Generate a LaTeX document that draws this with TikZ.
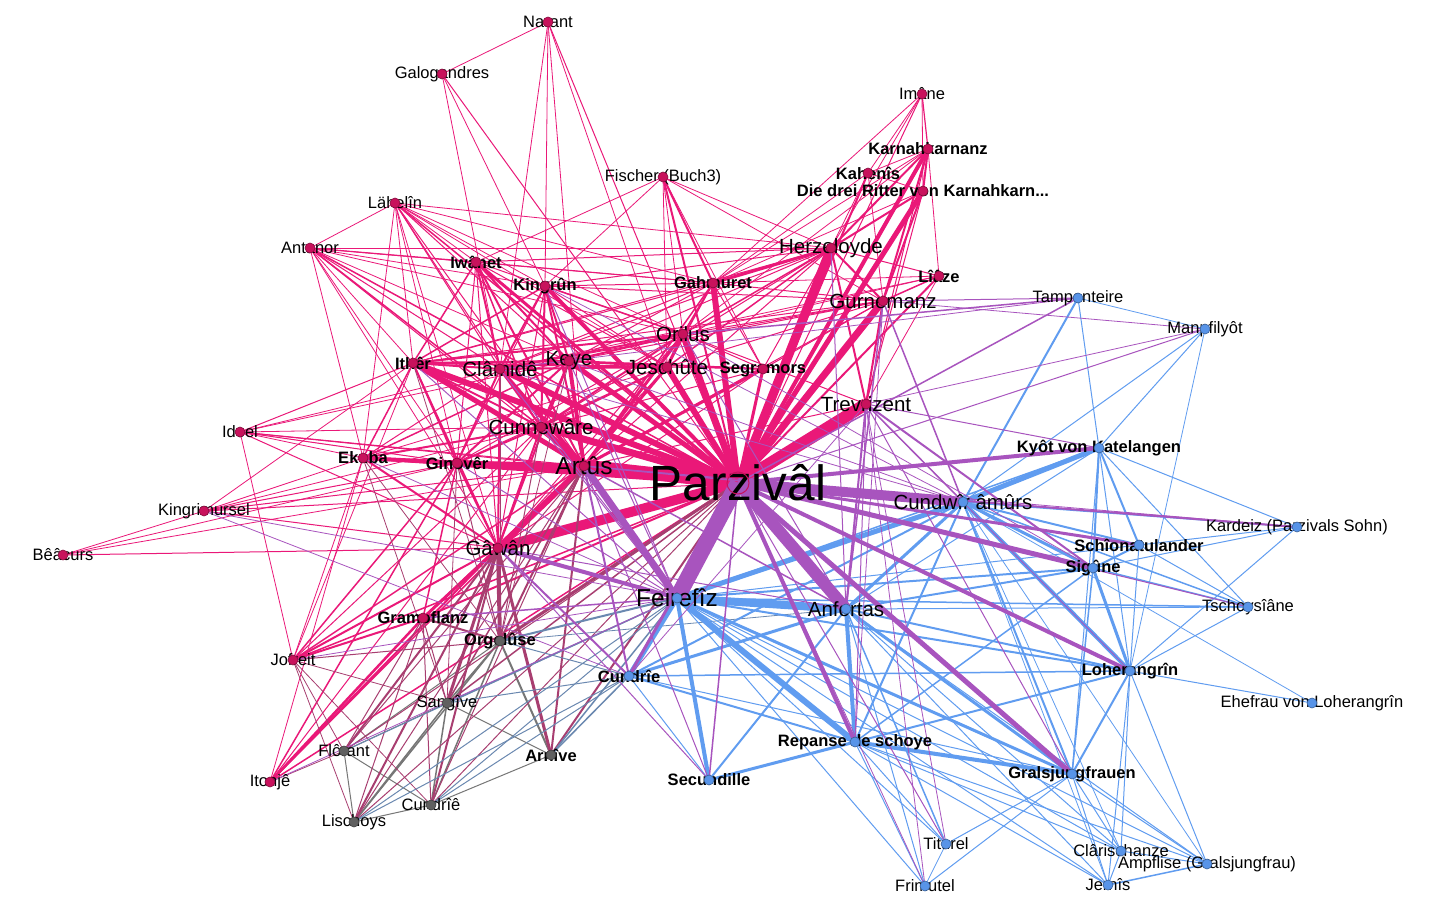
\documentclass[tikz,border=0pt]{standalone}
\usepackage{fontspec}
\setmainfont{Liberation Sans}
\usetikzlibrary{positioning}
\definecolor{dotpink}{RGB}{200,18,92}
\definecolor{dotblue}{RGB}{88,148,232}
\definecolor{dotgray}{RGB}{96,96,96}
\definecolor{pinkedge}{RGB}{234,24,120}
\definecolor{purpleedge}{RGB}{168,84,190}
\definecolor{blueedge}{RGB}{96,156,240}
\definecolor{grayedge}{RGB}{118,118,118}
\definecolor{mauveedge}{RGB}{168,62,112}
\definecolor{slateedge}{RGB}{106,136,176}
\pgfdeclarelayer{back}
\pgfdeclarelayer{edges}
\pgfsetlayers{back,edges,main}

\begin{document}
\begin{tikzpicture}[
x=1pt, y=-1pt,
sm/.style={font=\fontsize{16.5}{18}\selectfont, inner sep=0pt},
bd/.style={font=\fontsize{16.5}{18}\selectfont\bfseries, inner sep=0pt},
md/.style={font=\fontsize{20.5}{22}\selectfont, inner sep=0pt},
lg/.style={font=\fontsize{24.5}{26}\selectfont, inner sep=0pt},
xl/.style={font=\fontsize{49.5}{52}\selectfont, inner sep=0pt},
dotnode/.style={circle, inner sep=0pt, minimum size=10pt, line width=0.6pt},
pk/.style={label={[dotnode, fill=dotpink, draw=dotpink!65!black]center:}},
bl/.style={label={[dotnode, fill=dotblue, draw=dotblue!65!black]center:}},
gy/.style={label={[dotnode, fill=dotgray, draw=dotgray!65!black]center:}},
pkring/.style={label={[dotnode, minimum size=22pt, draw=dotpink, line width=1pt]center:}},
pinkline/.style={draw=pinkedge},
purpleline/.style={draw=purpleedge},
blueline/.style={draw=blueedge},
grayline/.style={draw=grayedge},
mauveline/.style={draw=mauveedge},
slateline/.style={draw=slateedge},
]
\begin{pgfonlayer}{back}
\fill[white] (0,0) rectangle (1429,920);
\end{pgfonlayer}
\useasboundingbox (0,0) rectangle (1429,920);

% pink group
\node[sm,pk] (nar) at (548,22)  {Narant};
\node[sm,pk] (gal) at (442,74)  {Galogandres};
\node[sm,pk] (lah) at (395,203) {Lähelîn};
\node[sm,pk] (ant) at (310,248) {Antanor};
\node[sm,pk] (ima) at (922,94)  {Imâne};
\node[bd,pk] (kar) at (928,149) {Karnahkarnanz};
\node[bd,pk] (kah) at (868,173) {Kahenîs};
\node[bd,pk] (dre) at (923,191) {Die drei Ritter von Karnahkarn...};
\node[sm,pk] (fis) at (663,177) {Fischer (Buch3)};
\node[md,pk] (her) at (831,248) {Herzeloyde};
\node[bd,pk] (gah) at (713,283) {Gahmuret};
\node[bd,pk] (kin) at (545,286) {Kingrûn};
\node[bd,pk] (iwa) at (476,262) {Iwânet};
\node[bd,pk] (lia) at (939,276) {Lîâze};
\node[md,pk] (gur) at (883,301) {Gurnemanz};
\node[md,pk] (ori) at (683,334) {Orilus};
\node[md,pk] (jes) at (667,367) {Jeschûte};
\node[md,pk] (key) at (569,361) {Keye};
\node[md,pk] (cla) at (500,369) {Clâmidê};
\node[bd,pk] (ith) at (413,363) {Ithêr};
\node[bd,pk] (seg) at (763,369) {Segramors};
\node[md,pk] (tre) at (866,404) {Trevrizent};
\node[md,pk] (cun) at (541,427) {Cunnewâre};
\node[sm,pk] (ido) at (240,432) {Idoel};
\node[bd,pk] (eku) at (363,458) {Ekuba};
\node[bd,pk] (gin) at (457,463) {Ginovêr};
\node[lg,pk] (art) at (584,466) {Artûs};
\node[xl,pkring] (par) at (738,483) {Parzivâl};
\node[sm,pk] (kgm) at (204,511) {Kingrimursel};
\node[sm,pk] (bea) at (63,555)  {Bêâcurs};
\node[md,pk] (gaw) at (498,548) {Gâwân};
\node[bd,pk] (gra) at (423,618) {Gramoflanz};
\node[sm,pk] (jof) at (293,660) {Jofreit};
\node[sm,pk] (ito) at (270,782) {Itonjê};

% gray group
\node[bd,gy] (org) at (500,641) {Orgelûse};
\node[sm,gy] (san) at (447,703) {Sangîve};
\node[sm,gy] (flo) at (344,751) {Flôrant};
\node[sm,gy] (cde) at (431,805) {Cundrîê};
\node[sm,gy] (lis) at (354,822) {Lischoys};
\node[bd,gy] (arn) at (551,755) {Arnîve};

% blue group
\node[bd,bl] (cdr) at (629,676)  {Cundrîe};
\node[sm,bl] (tam) at (1078,298) {Tampenteire};
\node[sm,bl] (man) at (1205,329) {Manpfilyôt};
\node[bd,bl] (kyo) at (1099,448) {Kyôt von Katelangen};
\node[md,bl] (cdw) at (963,502)  {Cundwîr âmûrs};
\node[sm,bl] (kad) at (1297,527) {Kardeiz (Parzivals Sohn)};
\node[bd,bl] (sch) at (1139,545) {Schîonatulander};
\node[bd,bl] (sig) at (1093,568) {Sigûne};
\node[sm,bl] (tsc) at (1248,607) {Tschoysîâne};
\node[lg,bl] (fei) at (677,598)  {Feirefîz};
\node[md,bl] (anf) at (846,609)  {Anfortas};
\node[bd,bl] (loh) at (1130,671) {Loherangrîn};
\node[sm,bl] (ehe) at (1312,703) {Ehefrau von Loherangrîn};
\node[bd,bl] (rep) at (855,742)  {Repanse de schoye};
\node[bd,bl] (grj) at (1072,774) {Gralsjungfrauen};
\node[bd,bl] (sec) at (709,780)  {Secundille};
\node[sm,bl] (tit) at (946,844)  {Titurel};
\node[sm,bl] (fri) at (925,886)  {Frimutel};
\node[sm,bl] (clr) at (1121,851) {Clârischanze};
\node[sm,bl] (amp) at (1207,864) {Ampflise (Gralsjungfrau)};
\node[sm,bl] (jer) at (1108,885) {Jernîs};

\begin{pgfonlayer}{edges}
% pink - pink
\foreach \a/\b/\w in {nar/gal/0.8, nar/kin/0.8, nar/jes/0.8, nar/cla/0.8, gal/cla/0.8, gal/kin/0.8,
  lah/ant/0.8, lah/iwa/0.8, lah/kin/0.8, lah/cla/1, lah/key/1, lah/jes/0.8, lah/ori/0.8, lah/gah/0.8, lah/ith/0.8, lah/cun/1, lah/gin/0.8, lah/eku/0.8,
  ant/iwa/1.2, ant/kin/0.8, ant/cla/1, ant/key/0.8, ant/ith/0.8, ant/cun/1.5, ant/gin/0.8, ant/eku/0.8, ant/gah/0.8, ant/her/0.8, ant/ori/0.8,
  fis/gah/2, fis/her/0.8, fis/ori/0.8, fis/jes/0.8, fis/kin/0.8, fis/iwa/0.8, fis/gur/0.8, fis/seg/0.8,
  ima/kar/1.2, ima/kah/0.8, ima/dre/0.8, ima/her/0.8, ima/gah/0.8,
  kar/kah/0.8, kar/dre/2, kar/her/2, kar/gur/2, kar/gah/0.8, kar/tre/1, kar/ori/0.8, kar/lia/0.8,
  kah/dre/0.8, kah/her/0.8, kah/gah/0.8, kah/gur/0.8, dre/her/2, dre/gur/2, dre/gah/0.8, dre/tre/1,
  her/gah/3, her/gur/2, her/lia/1, her/tre/2, her/ori/1.5, her/jes/1.5, her/kin/1, her/iwa/1, her/cla/1, her/ith/1, her/key/1, her/seg/1, her/lah/0.8, her/cun/1,
  gah/ori/1.5, gah/jes/1.5, gah/kin/1, gah/iwa/1, gah/cla/1, gah/ith/1, gah/key/1, gah/lia/0.8, gah/gur/1, gah/seg/1,
  lia/gur/1.5, lia/tre/0.8, lia/ori/0.8, lia/cla/0.8,
  gur/tre/2, gur/ori/1, gur/jes/1, gur/cla/1, gur/key/1, gur/ith/1, gur/kin/1, gur/seg/1,
  ori/jes/3, ori/cun/2, ori/key/2, ori/cla/2, ori/ith/2, ori/seg/1, ori/tre/1, ori/gin/1, ori/kin/1.5, ori/iwa/1,
  jes/cun/2, jes/key/2, jes/cla/2, jes/ith/2, jes/seg/1, jes/gin/1, jes/kin/1, jes/iwa/1, jes/eku/0.8,
  key/cun/2, key/cla/2, key/ith/2, key/kin/2, key/iwa/2, key/gin/2, key/eku/1.5, key/seg/2, key/ido/0.8,
  cla/kin/2, cla/iwa/2, cla/ith/2, cla/cun/2, cla/gin/2, cla/eku/1, cla/ido/0.8,
  ith/cun/2, ith/gin/2, ith/eku/1.5, ith/ido/1, ith/iwa/1.5, ith/kin/1.5, ith/kgm/0.8, ith/jof/0.8,
  cun/gin/2, cun/eku/2, cun/kin/2, cun/iwa/1.5, cun/seg/1, cun/ido/0.8, cun/kgm/0.8, cun/jof/1, cun/ito/1,
  gin/eku/4, gin/ido/1, gin/kgm/1, gin/jof/1.5, gin/ito/1.5, gin/gra/1.5, gin/kin/1, gin/iwa/1, gin/bea/0.8,
  eku/ido/0.8, eku/kgm/0.8, eku/jof/0.8, eku/ito/0.8, ido/jof/0.8, kgm/bea/0.8, gra/jof/2, gra/ito/2.5,
  gaw/gin/2, gaw/eku/2, gaw/cun/2, gaw/cla/2, gaw/key/2, gaw/ith/1.5, gaw/kgm/1, gaw/bea/1, gaw/ido/1, gaw/gra/3, gaw/jof/2, gaw/ito/2,
  gaw/kin/1, gaw/iwa/1, gaw/jes/1, gaw/ori/1, gaw/seg/1, gaw/ant/0.8, gaw/lah/0.8,
  art/gaw/6, art/gin/5, art/cun/5, art/cla/4, art/ith/5, art/key/4, art/kin/2, art/iwa/2, art/jes/3, art/ori/3, art/gah/1.5, art/her/1, art/gur/1,
  art/seg/3, art/tre/1, art/eku/2, art/ido/1, art/kgm/1, art/ant/1, art/lah/1, art/gra/2, art/jof/1.5, art/ito/1.5, art/nar/0.8, art/bea/0.8,
  par/lah/1.5, par/ant/1.5, par/ido/1, par/kgm/1, par/gra/2, par/jof/1.5, par/ito/1.5, par/nar/1, par/gal/1, par/ima/1, par/fis/2, par/kah/2, par/lia/2,
  par/iwa/3, par/seg/3, par/eku/3, par/kin/4, par/kar/4, par/dre/5, par/key/5, par/cla/6, par/ith/6, par/jes/6, par/gah/6,
  par/gin/7, par/cun/7, par/ori/7, par/gur/7, par/her/9, par/gaw/10, par/tre/12, par/art/13}
  \draw[pinkline, line width=\w pt] (\a.center) -- (\b.center);
% gray - gray, pink - gray, gray - blue
\foreach \a/\b/\w in {san/flo/1, san/cde/1.5, san/lis/1.5, san/org/1.5, san/arn/1, flo/lis/1, flo/cde/1, flo/org/1, cde/lis/1, cde/org/1.5, cde/arn/1, lis/org/1.5, org/arn/2}
  \draw[grayline, line width=\w pt] (\a.center) -- (\b.center);
\foreach \a/\b/\w in {par/org/3, par/arn/2, par/san/1.5, par/flo/1, par/cde/1, par/lis/1, art/org/2, art/arn/2, art/san/1.5, art/flo/1, art/cde/1, art/lis/1,
  gaw/org/4, gaw/arn/3, gaw/san/3, gaw/flo/2, gaw/cde/2, gaw/lis/2, gra/san/1, gra/cde/1, gra/lis/1, gra/flo/1, gra/org/2,
  jof/san/0.8, jof/cde/0.8, jof/lis/0.8, jof/flo/0.8, jof/org/1, ito/flo/0.8, gin/org/1, gin/san/0.8, cun/org/1, key/org/0.8, cla/org/0.8, ith/org/0.8, eku/org/0.8, eku/san/0.8}
  \draw[mauveline, line width=\w pt] (\a.center) -- (\b.center);
\foreach \a/\b/\w in {fei/org/2, fei/arn/1.5, fei/san/1.5, fei/flo/1, fei/lis/1, fei/cde/1, cdr/org/1, cdr/lis/1, cdr/cde/1, cdr/arn/1.5, cdr/san/1, anf/org/0.8}
  \draw[slateline, line width=\w pt] (\a.center) -- (\b.center);
% blue - blue
\foreach \a/\b/\w in {tam/man/0.8, tit/fri/0.8, clr/amp/1, clr/jer/1, amp/jer/1.5, cdr/sec/1, cdr/grj/1,
  grj/clr/1, grj/amp/1, grj/jer/1, grj/tit/1, grj/fri/1,
  rep/grj/4, rep/sec/3, rep/cdr/2, rep/tit/1, rep/fri/1, rep/clr/1, rep/jer/1, rep/amp/1,
  loh/ehe/1, loh/grj/2, loh/rep/2, loh/cdr/1.5, loh/tsc/1, loh/kad/1, loh/clr/1, loh/jer/1, loh/amp/1, loh/man/0.8,
  sch/tsc/1, sch/kad/1, sch/loh/1, sig/sch/2, sig/loh/3, sig/tsc/1.5, sig/rep/1.5, sig/grj/1.5, sig/kad/1,
  kyo/sig/2, kyo/sch/2, kyo/tam/1, kyo/man/1, kyo/kad/1, kyo/loh/1, kyo/tsc/1, kyo/grj/1,
  cdw/kyo/5, cdw/loh/4, cdw/sig/3, cdw/sch/2, cdw/tam/2, cdw/man/1, cdw/kad/1.5, cdw/grj/2, cdw/rep/2, cdw/cdr/2, cdw/tsc/1.5, cdw/ehe/0.8, cdw/clr/0.8, cdw/amp/0.8, cdw/jer/0.8,
  anf/rep/4, anf/cdw/3, anf/grj/3, anf/cdr/3, anf/sec/2, anf/loh/2, anf/sig/2, anf/tit/1.5, anf/fri/1, anf/clr/1, anf/jer/1, anf/amp/1, anf/tsc/1, anf/kyo/1,
  fei/cdw/5, fei/rep/6, fei/cdr/5, fei/sec/4, fei/grj/3, fei/loh/2, fei/sig/2, fei/kyo/1.5, fei/tit/1, fei/fri/1, fei/tsc/1.5, fei/clr/1, fei/jer/1, fei/amp/1, fei/sch/1, fei/anf/8}
  \draw[blueline, line width=\w pt] (\a.center) -- (\b.center);
% pink - blue
\foreach \a/\b/\w in {fei/gin/1, fei/eku/0.8, fei/cla/1, fei/ith/1, fei/kin/1, fei/gra/1.5, fei/jof/0.8, fei/ito/0.8, fei/kgm/0.8, fei/cun/1, fei/key/1,
  anf/tre/2, anf/gur/1.5, anf/her/1, anf/ori/1, cdw/gur/1.5, cdw/kin/0.8, cdw/cla/0.8, cdw/key/0.8, cdw/tre/1.5, sig/tre/2, sig/ori/0.8,
  tam/ori/1.5, tam/gur/1, tam/cla/0.8, man/gur/0.8, man/tre/0.8, rep/tre/1, rep/gur/0.8, tre/kyo/1, tre/tit/0.8, tre/fri/0.8, tre/loh/0.8, tre/grj/1, tre/cdr/0.8, kgm/cdr/0.8,
  gaw/anf/1, gaw/cdr/2, gaw/sec/1, gaw/fei/4, art/anf/1.5, art/cdw/1.5, art/cdr/2, art/kad/0.8, art/sec/1, art/fei/7,
  par/sec/1.5, par/tam/1.5, par/man/1, par/tit/1, par/fri/0.8, par/tsc/1, par/kad/2, par/cdr/3, par/sch/3, par/kyo/4, par/rep/4, par/loh/4,
  par/sig/5, par/grj/5, par/cdw/10, par/anf/12, par/fei/16}
  \draw[purpleline, line width=\w pt] (\a.center) -- (\b.center);
\end{pgfonlayer}

\end{tikzpicture}
\end{document}
